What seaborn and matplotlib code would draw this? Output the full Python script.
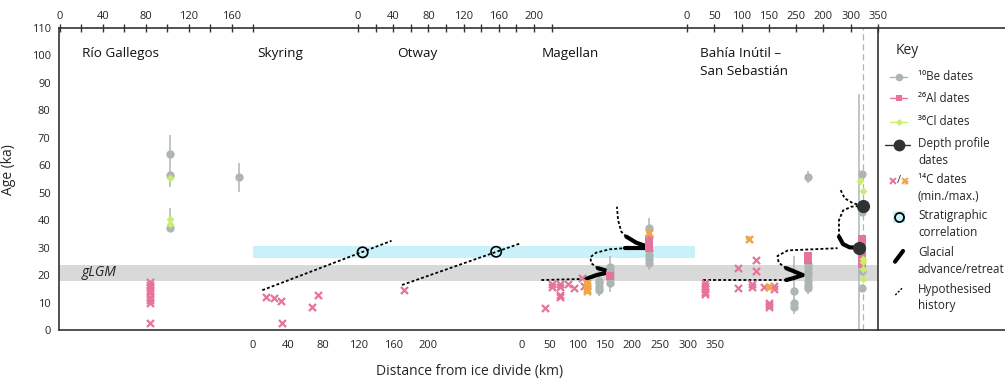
import matplotlib
matplotlib.use("Agg")
import matplotlib.pyplot as plt
import seaborn as sns
import pandas as pd

sns.set_style("white")
plt.rcParams["font.family"] = ["Open Sans", "DejaVu Sans"]

# --- panels sharing one strip: origin (px from left spine) and px per km
panel_keys = ["RG", "SK", "OT", "MA", "BI"]
panel_names = ["Río Gallegos", "Skyring", "Otway", "Magellan", "Bahía Inútil –\nSan Sebastián"]
panel_origin = [1, 194, 299, 463, 628]
panel_scale = [1.072, 0.877, 0.88, 0.552, 0.5455]
panel_side = ["top", "bottom", "top", "bottom", "top"]
panel_tick_km = [list(range(0, 181, 20)), list(range(0, 221, 20)), list(range(0, 221, 20)),
                 list(range(0, 351, 50)), list(range(0, 351, 50))]
panel_tick_lab = [["0", "", "40", "", "80", "", "120", "", "160", ""],
                  ["0", "", "40", "", "80", "", "120", "", "160", "", "200", ""],
                  ["0", "", "40", "", "80", "", "120", "", "160", "", "200", ""],
                  ["0", "50", "100", "150", "200", "250", "300", "350"],
                  ["0", "50", "100", "150", "250", "200", "300", "350"]]
title_px = [23, 198, 338, 483, 641]

# --- dates (panel, km, age ka)
be_dates = [("RG", 103, 64.1), ("RG", 103, 56.3), ("RG", 103, 37.0), ("RG", 167, 55.6),
            ("MA", 139, 18.0), ("MA", 139, 17.0), ("MA", 139, 15.5), ("MA", 139, 14.5),
            ("MA", 160, 23.0), ("MA", 160, 21.5), ("MA", 160, 20.0), ("MA", 160, 18.5), ("MA", 160, 17.0),
            ("MA", 230, 37.0), ("MA", 230, 34.0), ("MA", 230, 29.0), ("MA", 230, 27.5),
            ("MA", 230, 26.0), ("MA", 230, 24.5),
            ("BI", 196, 14.2), ("BI", 196, 9.7), ("BI", 196, 8.3), ("BI", 222, 55.6),
            ("BI", 222, 24.0), ("BI", 222, 22.5), ("BI", 222, 21.0), ("BI", 222, 19.5),
            ("BI", 222, 18.0), ("BI", 222, 16.5), ("BI", 222, 15.3),
            ("BI", 321, 56.8), ("BI", 321, 43.0), ("BI", 321, 21.6), ("BI", 321, 15.3)]
al_dates = [("MA", 160, 19.8), ("MA", 230, 33.0), ("MA", 230, 32.0), ("MA", 230, 31.0), ("MA", 230, 30.0),
            ("BI", 222, 26.8), ("BI", 222, 25.5),
            ("BI", 321, 33.0), ("BI", 321, 31.5), ("BI", 321, 30.0), ("BI", 321, 28.5),
            ("BI", 321, 27.0), ("BI", 321, 25.5), ("BI", 321, 24.0)]
cl_dates = [("RG", 103, 55.2), ("RG", 103, 40.5), ("RG", 103, 38.5),
            ("BI", 318, 54.3), ("BI", 322, 50.8), ("BI", 322, 26.0), ("BI", 322, 24.9),
            ("BI", 322, 22.1), ("BI", 322, 18.4)]
depth_dates = [("BI", 322, 45.3), ("BI", 315, 30.0)]
c14_min = [("RG", 84, 17.5), ("RG", 84, 16.5), ("RG", 84, 15.5), ("RG", 84, 14.5), ("RG", 84, 13.5),
           ("RG", 84, 12.0), ("RG", 84, 10.8), ("RG", 84, 10.0), ("RG", 84, 2.5),
           ("SK", 14.5, 12.1), ("SK", 24, 11.5), ("SK", 32, 10.6), ("SK", 33.5, 2.7),
           ("SK", 67.6, 8.3), ("SK", 73.7, 12.7), ("OT", 52, 14.6),
           ("MA", 41, 7.9), ("MA", 55, 16.8), ("MA", 55, 15.8), ("MA", 68, 16.8), ("MA", 68, 15.8),
           ("MA", 69.5, 11.9), ("MA", 69.5, 12.8), ("MA", 83, 16.8), ("MA", 94, 15.2),
           ("MA", 108, 19.0), ("MA", 113, 16.0),
           ("BI", 33, 17.0), ("BI", 33, 16.0), ("BI", 33, 15.0), ("BI", 33, 14.0), ("BI", 33, 13.0),
           ("BI", 93, 22.5), ("BI", 93, 15.2), ("BI", 127, 25.5), ("BI", 127, 21.6),
           ("BI", 120, 16.8), ("BI", 120, 15.8), ("BI", 141, 15.5), ("BI", 159, 16.0), ("BI", 159, 15.0),
           ("BI", 151, 10.0), ("BI", 151, 9.2), ("BI", 151, 8.4)]
c14_max = [("MA", 117, 17.0), ("MA", 117, 16.0), ("MA", 117, 15.0), ("MA", 117, 14.3), ("MA", 230, 35.5),
           ("BI", 114, 33.2), ("BI", 151, 15.5)]
strat_corr = [("SK", 125, 28.3), ("OT", 157, 28.5)]
# error bars (panel, km, low, high)
be_errors = [("RG", 103, 52.2, 71.0), ("RG", 103, 36.0, 44.4), ("RG", 167, 50.3, 61.0),
             ("MA", 139, 12.5, 21.5), ("MA", 160, 14.0, 27.0), ("MA", 230, 22.0, 40.7),
             ("BI", 196, 6.0, 27.0), ("BI", 222, 13.0, 28.0), ("BI", 222, 53.5, 58.0),
             ("BI", 316, 0.0, 86.0)]
bi_divide_km = 322

# hypothesised history (dashed) and glacial advance/retreat (thick)
hypothesised = [("SK", [(10.6, 14.5), (158, 32.5)]),
                ("OT", [(50, 16.4), (185, 31.6)]),
                ("MA", [(35, 18.2), (116, 18.6)]),
                ("MA", [(137.6, 22.5), (125.5, 24.3), (123.7, 26.5), (134.6, 28.2), (158.7, 29.4), (186, 29.8)]),
                ("MA", [(189, 34), (180, 35.8), (174, 40), (172, 44.9)]),
                ("BI", [(30, 18.2), (182, 18.2)]),
                ("BI", [(182, 22.5), (168, 24.5), (166, 27), (185, 29), (276, 29.8)]),
                ("BI", [(278.6, 34), (278.6, 40), (286, 43.5), (301, 44.9), (321, 45.3)]),
                ("BI", [(321, 45.3), (304, 46.2), (289, 48), (280, 51.6)])]
glacial = [("MA", [(116, 18.6), (135, 20), (161, 21.2)]),
           ("MA", [(137.6, 22.5), (150, 21.8), (161, 21.2)]),
           ("MA", [(186, 29.8), (228, 29.8)]),
           ("MA", [(189, 34), (207, 31.8), (228, 30.3)]),
           ("BI", [(182, 18.2), (197, 19), (212, 20)]),
           ("BI", [(182, 22.5), (197, 21.3), (212, 20)]),
           ("BI", [(278.6, 34), (286, 31.3), (298, 30.1), (315, 30)])]

glgm_band = (18.0, 23.7)
strat_band = (26.3, 30.6)

GREY = "#aeb6b5"
PINK = "#e5739c"
LIME = "#c9ee6a"
ORANGE = "#f3a446"
DARK = "#2f3332"
CYAN = "#c9f1fa"
BAND = "#d9d9d9"
INK = "#333333"

origin = dict(zip(panel_keys, panel_origin))
scale = dict(zip(panel_keys, panel_scale))


def xpos(p, km):
    return origin[p] + km * scale[p]


def frame(rows):
    df = pd.DataFrame(rows, columns=["panel", "km", "age"])
    df["x"] = [xpos(p, k) for p, k in zip(df.panel, df.km)]
    return df


fig = plt.figure(figsize=(10.05, 3.79), dpi=100)
ax = fig.add_axes([59 / 1005, 49 / 379, 819 / 1005, 302 / 379])
ax.set_xlim(0, 819)
ax.set_ylim(0, 110)

# bands
ax.axhspan(*glgm_band, color=BAND, lw=0, zorder=0)
ax.axhspan(*strat_band, xmin=xpos("SK", 0) / 819, xmax=xpos("MA", 313) / 819, color=CYAN, lw=0, zorder=0)
ax.text(23, 21, "gLGM", style="italic", fontsize=10, color="#222222", va="center")

# error bars and divide line
for p, km, lo, hi in be_errors:
    ax.vlines(xpos(p, km), lo, hi, color=GREY, lw=1.1, zorder=1)
ax.axvline(xpos("BI", bi_divide_km), color=GREY, lw=0.9, ls=(0, (5, 3)), zorder=1)

# history lines
for p, pts in hypothesised:
    ax.plot([xpos(p, k) for k, a in pts], [a for k, a in pts], color="black", lw=1.3,
            ls=(0, (1.6, 1.2)), zorder=2)
for p, pts in glacial:
    ax.plot([xpos(p, k) for k, a in pts], [a for k, a in pts], color="black", lw=3,
            solid_capstyle="round", solid_joinstyle="round", zorder=3)

# dates
sns.scatterplot(data=frame(be_dates), x="x", y="age", color=GREY, s=36, linewidth=0, ax=ax, zorder=4)
sns.scatterplot(data=frame(al_dates), x="x", y="age", color=PINK, marker="s", s=30, linewidth=0, ax=ax, zorder=5)
sns.scatterplot(data=frame(cl_dates), x="x", y="age", color=LIME, marker="D", s=16, linewidth=0, ax=ax, zorder=6)
sns.scatterplot(data=frame(c14_min), x="x", y="age", color=PINK, marker="x", s=26, linewidth=1.6, ax=ax, zorder=5)
sns.scatterplot(data=frame(c14_max), x="x", y="age", color=ORANGE, marker="x", s=26, linewidth=1.8, ax=ax, zorder=5)
sns.scatterplot(data=frame(c14_max), x="x", y="age", color=ORANGE, marker="+", s=18, linewidth=1.2, ax=ax, zorder=5)
sns.scatterplot(data=frame(depth_dates), x="x", y="age", color=DARK, s=90, linewidth=0, ax=ax, zorder=7)
sns.scatterplot(data=frame(strat_corr), x="x", y="age", facecolor="none", edgecolor="black", s=55,
                linewidth=1.2, ax=ax, zorder=7)

# panel titles
for name, tx in zip(panel_names, title_px):
    ax.text(tx, 103, name, fontsize=9.7, va="top", ha="left", color="#111111", linespacing=1.45)

# axes styling
ax.set_xlabel("")
ax.set_ylabel("Age (ka)", fontsize=10)
ax.yaxis.set_label_coords(-0.052, 0.53)
ax.set_yticks(range(0, 111, 10))
for s in ax.spines.values():
    s.set_color(INK)
    s.set_linewidth(1.2)
ax.tick_params(axis="y", direction="out", length=4, width=1, color=INK, labelsize=8, pad=2)

bot_pos, bot_lab, top_pos, top_lab = [], [], [], []
for p, side, kms, labs in zip(panel_keys, panel_side, panel_tick_km, panel_tick_lab):
    pos = [xpos(p, k) for k in kms]
    if side == "top":
        top_pos += pos
        top_lab += labs
    else:
        bot_pos += pos
        bot_lab += labs
ax.set_xticks(bot_pos, bot_lab)
ax.tick_params(axis="x", direction="out", length=5, width=1, color=INK, labelsize=8, pad=2)
top = ax.secondary_xaxis("top")
top.set_xticks(top_pos, top_lab)
top.tick_params(direction="inout", length=6, width=1, color=INK, labelsize=8, pad=1)
top.spines["top"].set_visible(False)

fig.text(470 / 1005, 1 - 372 / 379, "Distance from ice divide (km)", fontsize=10, ha="center", va="center")

# key panel
key = fig.add_axes([878 / 1005, 49 / 379, 127 / 1005, 302 / 379])
key.set_xlim(878, 1005)
key.set_ylim(330, 28)
key.set_xticks([])
key.set_yticks([])
for side in ["left", "right"]:
    key.spines[side].set_visible(False)
for side in ["top", "bottom"]:
    key.spines[side].set_color(INK)
    key.spines[side].set_linewidth(1.2)
key.patch.set_alpha(0)

key.text(896, 50, "Key", fontsize=10, va="center")
tx = 918
kfs = 8.4
key.plot([890, 907], [76.7, 76.7], color=GREY, lw=1)
key.plot(898.7, 76.7, "o", color=GREY, ms=5.5, mew=0)
key.text(tx, 76.7, "¹⁰Be dates", fontsize=kfs, va="center")
key.plot([890, 907], [98.3, 98.3], color=PINK, lw=1)
key.plot(898.7, 98.3, "s", color=PINK, ms=5, mew=0)
key.text(tx, 98.3, "²⁶Al dates", fontsize=kfs, va="center")
key.plot([890, 907], [121.7, 121.7], color=LIME, lw=1)
key.plot(898.7, 121.7, "D", color=LIME, ms=3.5, mew=0)
key.text(tx, 121.7, "³⁶Cl dates", fontsize=kfs, va="center")
key.plot([885, 910], [144.5, 144.5], color=DARK, lw=1)
key.plot(898.7, 144.5, "o", color=DARK, ms=8.5, mew=0)
key.text(tx, 137, "Depth profile\ndates", fontsize=kfs, va="top", linespacing=1.35)
key.plot(893, 180.7, "x", color=PINK, ms=4.5, mew=1.4)
key.text(898.5, 180.7, "/", fontsize=8, va="center", ha="center", color=INK)
key.plot(905, 180.7, "x", color=ORANGE, ms=4.5, mew=1.4)
key.plot(905, 180.7, "+", color=ORANGE, ms=4, mew=1)
key.text(tx, 173, "¹⁴C dates\n(min./max.)", fontsize=kfs, va="top", linespacing=1.35)
key.add_patch(plt.Rectangle((893, 211), 12, 12, color=CYAN, lw=0))
key.plot(898.7, 216.7, "o", mfc="none", mec="black", ms=6.5, mew=1.3)
key.text(tx, 209, "Stratigraphic\ncorrelation", fontsize=kfs, va="top", linespacing=1.35)
key.plot([895, 903], [261.7, 251], color="black", lw=3, solid_capstyle="round")
key.text(tx, 246.5, "Glacial\nadvance/retreat", fontsize=kfs, va="top", linespacing=1.35)
key.plot([895.3, 902], [295, 288.3], color="black", lw=1, ls=(0, (1.5, 1.2)))
key.text(tx, 282.5, "Hypothesised\nhistory", fontsize=kfs, va="top", linespacing=1.35)

fig.savefig("out.png", dpi=100)
